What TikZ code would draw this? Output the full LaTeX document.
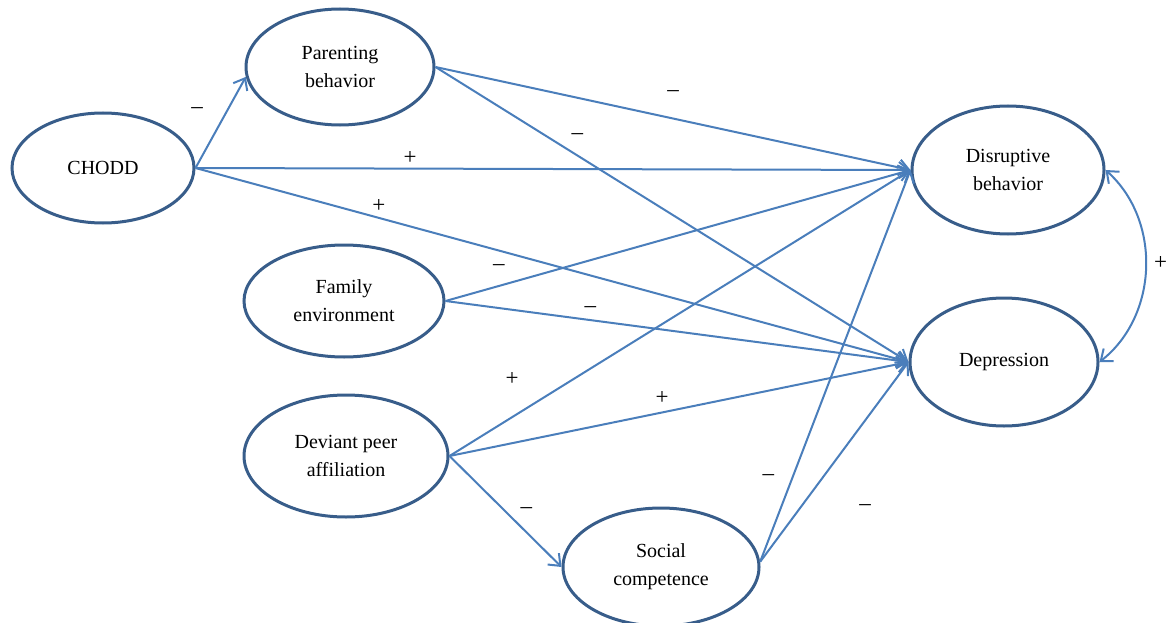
\documentclass[tikz,border=0pt]{standalone}
\usepackage{fontspec}
\setmainfont{Liberation Serif}
\usetikzlibrary{shapes.geometric, arrows.meta}
\definecolor{ovalblue}{HTML}{385D8A}
\definecolor{pathblue}{HTML}{4A7EBB}
\tikzstyle{factor} = [ellipse, draw=ovalblue, line width=3pt, inner sep=0pt, align=center, font=\fontsize{20}{28}\selectfont]
\tikzstyle{sign} = [inner sep=0pt, text height=0.5em, text depth=0pt, font=\fontsize{23}{26}\selectfont]
\tikzstyle{arrow} = [line width=2pt, draw=pathblue, ->, >={Straight Barb[length=10pt,width=16pt]}]

\begin{document}
\begin{tikzpicture}[x=1pt, y=-1pt]
\useasboundingbox (0,0) rectangle (1169,623);

\node (chodd) [factor, minimum width=182pt, minimum height=110pt] at (103,168) {CHODD};
\node (par) [factor, minimum width=188pt, minimum height=116pt] at (340,67) {Parenting\\behavior};
\node (fam) [factor, minimum width=200pt, minimum height=112pt] at (344,301) {Family\\environment};
\node (dev) [factor, minimum width=204pt, minimum height=122pt] at (346,456) {Deviant peer\\affiliation};
\node (soc) [factor, minimum width=196pt, minimum height=118pt] at (661,567) {Social\\competence};
\node (disr) [factor, minimum width=192pt, minimum height=128pt] at (1008,170) {Disruptive\\behavior};
\node (dep) [factor, minimum width=188pt, minimum height=128pt] at (1004,362) {Depression};

% paths from CHODD
\draw [arrow] (chodd.east) -- node[sign, pos=0.63, xshift=-30pt] {--} (par.186);
\draw [arrow] (chodd.east) -- node[sign, pos=0.30, yshift=7pt] {+} (disr.west);
\draw [arrow] (chodd.east) -- node[sign, pos=0.257, yshift=8pt] {+} (dep.west);

% mediators to outcomes
\draw [arrow] (par.east) -- node[sign, pos=0.5, yshift=24pt] {--} (disr.west);
\draw [arrow] (par.east) -- node[sign, pos=0.3, yshift=19pt] {--} (dep.west);
\draw [arrow] (fam.east) -- node[sign, pos=0.115, yshift=18pt] {--} (disr.west);
\draw [arrow] (fam.east) -- node[sign, pos=0.313, yshift=10pt] {--} (dep.west);
\draw [arrow] (dev.east) -- node[sign, pos=0.136, yshift=34pt] {+} (disr.west);
\draw [arrow] (dev.east) -- node[sign, pos=0.463, yshift=10pt] {+} (dep.west);
\draw [arrow] (dev.east) -- node[sign, pos=0.687, yshift=21pt] {--} (soc.west);
\draw [arrow] (soc.3) -- node[sign, pos=0.214, xshift=-24pt] {--} (disr.west);
\draw [arrow] (soc.3) -- node[sign, pos=0.27, xshift=65pt] {--} (dep.west);

% outcomes correlated
\draw [arrow, <->] (disr.east) to[bend left=50] node[sign, xshift=15pt] {+} (dep.east);

\end{tikzpicture}
\end{document}
